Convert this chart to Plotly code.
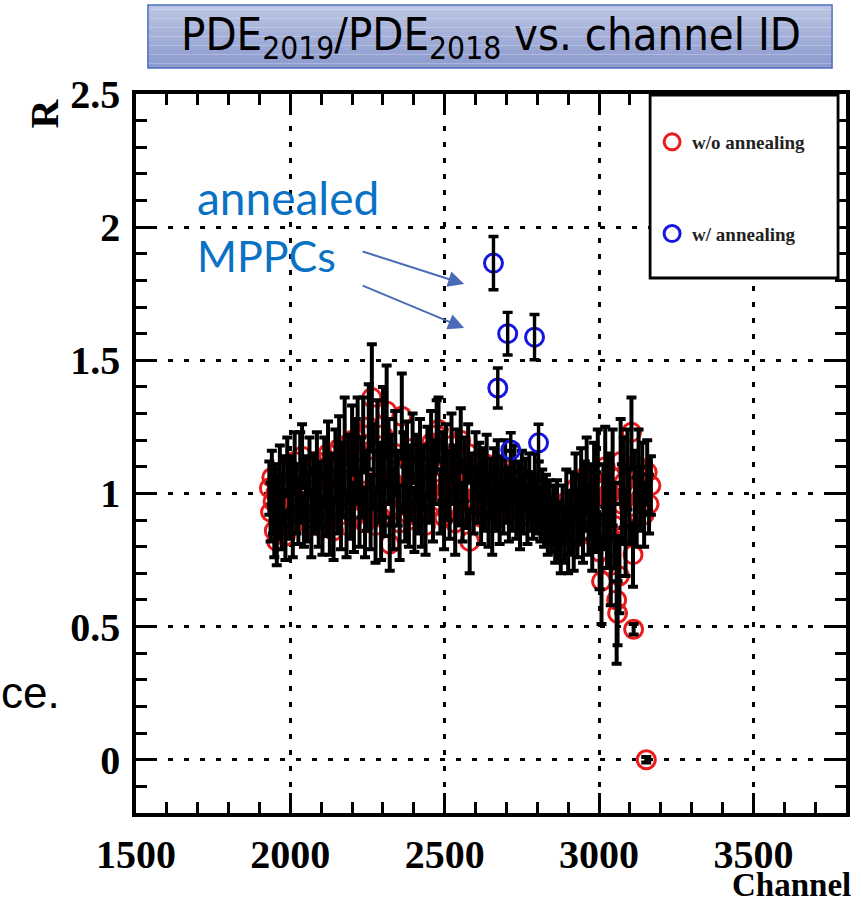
import plotly.graph_objects as go

# ---------------- data ----------------
red_ch = [1932, 1936, 1940, 1944, 1948, 1952, 1956, 1960, 1966, 1972, 1978, 1984, 1990, 1996,
          2002, 2008, 2014, 2020, 2026, 2032, 2038, 2044, 2050, 2056, 2062, 2068, 2074, 2080,
          2086, 2092, 2098, 2104, 2110, 2116, 2122, 2128, 2134, 2140, 2146, 2152, 2158, 2164,
          2170, 2176, 2182, 2188, 2194, 2200, 2206, 2212, 2218, 2224, 2230, 2236, 2242, 2248,
          2254, 2260, 2264, 2270, 2276, 2282, 2288, 2294, 2300, 2306, 2312, 2318, 2322, 2328,
          2334, 2340, 2348, 2354, 2361, 2366, 2372, 2378, 2384, 2390, 2396, 2402, 2408, 2414,
          2420, 2426, 2432, 2438, 2444, 2450, 2456, 2462, 2468, 2474, 2480, 2486, 2492, 2498,
          2504, 2510, 2516, 2522, 2528, 2534, 2540, 2546, 2552, 2558, 2564, 2570, 2576, 2581,
          2588, 2594, 2600, 2606, 2612, 2618, 2624, 2630, 2636, 2642, 2648, 2654, 2660, 2666,
          2672, 2678, 2684, 2690, 2696, 2702, 2708, 2714, 2720, 2726, 2732, 2738, 2744, 2750,
          2756, 2762, 2768, 2774, 2780, 2786, 2792, 2798, 2804, 2810, 2816, 2822, 2828, 2834,
          2840, 2846, 2852, 2858, 2864, 2870, 2876, 2882, 2888, 2894, 2900, 2906, 2912, 2918,
          2924, 2930, 2936, 2942, 2948, 2954, 2960, 2966, 2972, 2978, 2984, 2990, 2996, 3002,
          3008, 3014, 3020, 3026, 3032, 3038, 3044, 3050, 3057, 3060, 3066, 3070, 3074, 3080,
          3086, 3092, 3098, 3105, 3110, 3112, 3116, 3122, 3128, 3134, 3140, 3146, 3153, 3156,
          3162, 3168]
red_r = [1.02, 0.93, 1.06, 0.97, 0.86, 1.00, 0.82, 0.95, 1.08, 0.90, 1.01, 0.84, 1.10, 0.95,
         1.04, 0.88, 1.12, 0.98, 0.92, 1.06, 1.14, 0.90, 1.02, 0.95, 1.10, 0.88, 1.05, 0.97,
         1.12, 0.93, 1.00, 0.87, 1.08, 0.96, 1.15, 0.90, 1.03, 0.86, 1.11, 0.99, 1.17, 0.92,
         1.05, 1.18, 0.88, 1.09, 0.97, 1.20, 0.91, 1.13, 1.16, 0.94, 1.06, 1.22, 0.89, 1.01,
         1.25, 0.93, 1.36, 1.10, 0.88, 1.18, 1.04, 0.91, 1.22, 0.99, 1.31, 1.12, 0.81, 1.05,
         0.94, 1.15, 1.02, 0.89, 1.29, 1.08, 0.96, 1.14, 0.92, 1.04, 1.17, 0.90, 1.09, 0.99,
         1.16, 0.93, 1.06, 0.88, 1.12, 1.01, 1.19, 0.95, 1.08, 1.22, 1.24, 0.97, 1.10, 0.91,
         1.14, 1.03, 0.94, 1.18, 1.07, 0.89, 1.13, 1.00, 1.20, 0.93, 1.09, 0.98, 1.15, 0.82,
         1.04, 0.95, 1.12, 0.99, 1.08, 0.91, 1.05, 0.96, 1.11, 0.93, 1.02, 0.89, 1.07, 0.97,
         1.10, 0.92, 1.04, 0.95, 1.09, 0.99, 0.93, 1.06, 0.97, 1.08, 0.94, 1.02, 0.91, 1.06,
         0.96, 1.03, 0.92, 1.05, 0.97, 0.93, 1.04, 0.95, 1.01, 0.92, 0.98, 0.90, 0.96, 0.87,
         0.94, 0.88, 0.92, 0.84, 0.95, 0.86, 0.80, 0.92, 0.84, 0.97, 0.81, 0.89, 0.95, 0.83,
         1.02, 0.88, 0.94, 1.05, 0.86, 0.99, 1.07, 0.90, 0.97, 0.84, 1.04, 0.93, 1.08, 0.78,
         0.67, 0.95, 1.10, 0.86, 0.99, 0.73, 1.06, 0.88, 0.60, 0.55, 0.69, 1.12, 0.96, 1.04,
         0.85, 1.09, 0.95, 1.23, 0.77, 0.49, 1.02, 0.93, 1.10, 0.98, 1.06, 0.92, 0.00, 1.08,
         0.96, 1.03]
red_err = [0.10, 0.11, 0.10, 0.12, 0.10, 0.11, 0.09, 0.12, 0.10, 0.11, 0.13, 0.09, 0.11, 0.12,
           0.10, 0.12, 0.11, 0.13, 0.11, 0.17, 0.12, 0.10, 0.12, 0.13, 0.11, 0.12, 0.10, 0.12,
           0.11, 0.13, 0.12, 0.10, 0.13, 0.12, 0.12, 0.13, 0.12, 0.11, 0.13, 0.14, 0.12, 0.13,
           0.14, 0.18, 0.12, 0.13, 0.14, 0.13, 0.13, 0.15, 0.20, 0.14, 0.15, 0.14, 0.13, 0.15,
           0.16, 0.14, 0.20, 0.16, 0.14, 0.17, 0.15, 0.16, 0.18, 0.15, 0.17, 0.16, 0.10, 0.17,
           0.15, 0.16, 0.14, 0.14, 0.16, 0.15, 0.14, 0.13, 0.12, 0.14, 0.13, 0.12, 0.13, 0.14,
           0.12, 0.13, 0.12, 0.11, 0.13, 0.12, 0.12, 0.13, 0.12, 0.13, 0.12, 0.12, 0.13, 0.12,
           0.12, 0.13, 0.11, 0.12, 0.11, 0.12, 0.11, 0.12, 0.12, 0.11, 0.12, 0.11, 0.11, 0.12,
           0.11, 0.10, 0.11, 0.10, 0.11, 0.10, 0.12, 0.10, 0.11, 0.13, 0.11, 0.12, 0.10, 0.11,
           0.10, 0.11, 0.10, 0.10, 0.11, 0.10, 0.11, 0.10, 0.11, 0.10, 0.11, 0.10, 0.12, 0.10,
           0.11, 0.10, 0.11, 0.10, 0.11, 0.10, 0.11, 0.10, 0.11, 0.10, 0.11, 0.10, 0.11, 0.10,
           0.11, 0.10, 0.11, 0.10, 0.10, 0.11, 0.10, 0.11, 0.10, 0.12, 0.11, 0.12, 0.13, 0.12,
           0.13, 0.12, 0.13, 0.12, 0.12, 0.13, 0.14, 0.13, 0.14, 0.13, 0.15, 0.15, 0.16, 0.14,
           0.16, 0.16, 0.15, 0.14, 0.16, 0.15, 0.18, 0.16, 0.24, 0.12, 0.14, 0.16, 0.15, 0.17,
           0.16, 0.15, 0.14, 0.13, 0.12, 0.02, 0.14, 0.13, 0.14, 0.12, 0.13, 0.12, 0.01, 0.12,
           0.11, 0.11]

blue_ch = [2658, 2672, 2704, 2714, 2791, 2804]
blue_r = [1.865, 1.396, 1.600, 1.163, 1.587, 1.190]
blue_err = [0.100, 0.075, 0.080, 0.065, 0.085, 0.070]

x_ticks = [1500, 2000, 2500, 3000, 3500]
y_ticks = [0, 0.5, 1, 1.5, 2, 2.5]

# ---------------- geometry helpers (pixel -> paper) ----------------
W, H = 861, 906
ML, MR, MT, MB = 136, 11, 94, 93
PW, PH = W - ML - MR, H - MT - MB


def px(x):
    return (x - ML) / PW


def py(y):
    return (H - MB - y) / PH


RED = "#ec1b1b"
BLUE = "#1616e0"
SERIF = "Liberation Serif, Times New Roman, serif"

fig = go.Figure()

fig.add_trace(go.Scatter(
    x=red_ch, y=red_r, mode="markers", name="w/o annealing",
    legendgroup="a",
    marker=dict(symbol="circle-open", size=18, color=RED, line=dict(width=3, color=RED)),
))
fig.add_trace(go.Scatter(
    x=red_ch, y=red_r, mode="markers", showlegend=False,
    marker=dict(size=2, color="rgba(0,0,0,0)"),
    error_y=dict(type="data", array=red_err, visible=True, color="black", thickness=4, width=5),
))
fig.add_trace(go.Scatter(
    x=blue_ch, y=blue_r, mode="markers", name="w/ annealing",
    legendgroup="b",
    marker=dict(symbol="circle-open", size=18, color=BLUE, line=dict(width=3, color=BLUE)),
))
fig.add_trace(go.Scatter(
    x=blue_ch, y=blue_r, mode="markers", showlegend=False,
    marker=dict(size=2, color="rgba(0,0,0,0)"),
    error_y=dict(type="data", array=blue_err, visible=True, color="black", thickness=3.4, width=5),
))

axis_common = dict(
    showline=True, linecolor="black", linewidth=3.5, mirror="allticks",
    ticks="inside", ticklen=20, tickwidth=3, tickcolor="black",
    showgrid=True, gridcolor="black", gridwidth=3, griddash="5px,11px",
    zeroline=False,
    tickfont=dict(family=SERIF, size=40, color="black", weight="bold"),
)

fig.update_xaxes(
    range=[1500, 3800], tickvals=x_ticks, ticktext=[str(v) for v in x_ticks],
    minor=dict(dtick=100, tick0=1500, ticks="inside", ticklen=11, tickwidth=3, tickcolor="black", showgrid=False),
    ticklabelstandoff=3,
    **axis_common,
)
fig.update_yaxes(
    range=[-0.2, 2.5], tickvals=y_ticks, ticktext=["0", "0.5", "1", "1.5", "2", "2.5"],
    minor=dict(dtick=0.1, tick0=0, ticks="inside", ticklen=11, tickwidth=3, tickcolor="black", showgrid=False),
    ticklabelstandoff=4,
    **axis_common,
)

shapes = []
# title box with vertical gradient
top_c = (187, 196, 226)
bot_c = (140, 155, 206)
nb = 14
y0p, y1p = 5, 68
for i in range(nb):
    t = i / (nb - 1)
    c = tuple(int(round(top_c[k] + (bot_c[k] - top_c[k]) * t)) for k in range(3))
    ya = y0p + (y1p - y0p) * i / nb
    yb = y0p + (y1p - y0p) * (i + 1) / nb
    shapes.append(dict(type="rect", xref="paper", yref="paper",
                       x0=px(148), x1=px(836), y0=py(yb), y1=py(ya),
                       fillcolor="rgb(%d,%d,%d)" % c, line=dict(width=0), layer="above"))
shapes.append(dict(type="rect", xref="paper", yref="paper",
                   x0=px(148), x1=px(836), y0=py(y1p), y1=py(y0p),
                   fillcolor="rgba(0,0,0,0)", line=dict(width=1.5, color="#4d6fc0"), layer="above"))
# legend box
shapes.append(dict(type="rect", xref="paper", yref="paper",
                   x0=px(653), x1=px(842), y0=py(278), y1=py(95),
                   fillcolor="white", line=dict(width=2.8, color="black"), layer="above"))

annotations = [
    dict(text="PDE<sub>2019</sub>/PDE<sub>2018</sub> vs. channel ID", xref="paper", yref="paper",
         x=px(493), y=py(37), xanchor="center", yanchor="middle", showarrow=False,
         font=dict(family="Liberation Sans Narrow, DejaVu Sans Condensed, Arial Narrow, sans-serif",
                   size=45, color="black")),
    dict(text="R", xref="paper", yref="paper", x=px(43), y=py(114), xanchor="center", yanchor="middle",
         textangle=-90, showarrow=False, font=dict(family=SERIF, size=40, color="black", weight="bold")),
    dict(text="Channel", xref="paper", yref="paper", x=px(857), y=py(885), xanchor="right",
         yanchor="middle", showarrow=False, font=dict(family=SERIF, size=33, color="black", weight="bold")),
    dict(text="ce.", xref="paper", yref="paper", x=px(-2), y=py(692), xanchor="left", yanchor="middle",
         showarrow=False, font=dict(family="Liberation Sans, Arial, sans-serif", size=44, color="black")),
    dict(text="annealed", xref="paper", yref="paper", x=px(195), y=py(198), xanchor="left",
         yanchor="middle", showarrow=False, font=dict(family="Lato, sans-serif", size=46, color="#0a72c4")),
    dict(text="MPPCs", xref="paper", yref="paper", x=px(195), y=py(255), xanchor="left",
         yanchor="middle", showarrow=False, font=dict(family="Lato, sans-serif", size=43, color="#0a72c4")),
    dict(text="", xref="paper", yref="paper", x=px(466), y=py(284), ax=363 - 466, ay=251 - 284,
         showarrow=True, arrowhead=2, arrowsize=1.6, arrowwidth=2, arrowcolor="#4a6cb8"),
    dict(text="", xref="paper", yref="paper", x=px(466), y=py(328), ax=363 - 466, ay=285 - 328,
         showarrow=True, arrowhead=2, arrowsize=1.6, arrowwidth=2, arrowcolor="#4a6cb8"),
]

fig.update_layout(
    width=W, height=H,
    margin=dict(l=ML, r=MR, t=MT, b=MB),
    paper_bgcolor="white", plot_bgcolor="white",
    shapes=shapes, annotations=annotations,
    showlegend=True,
    legend=dict(x=px(655), y=py(123), xanchor="left", yanchor="top",
                bgcolor="rgba(0,0,0,0)", borderwidth=0,
                traceorder="grouped", tracegroupgap=64,
                font=dict(family=SERIF, size=19, color="#222222", weight="bold")),
)

fig.write_html("out.html")
